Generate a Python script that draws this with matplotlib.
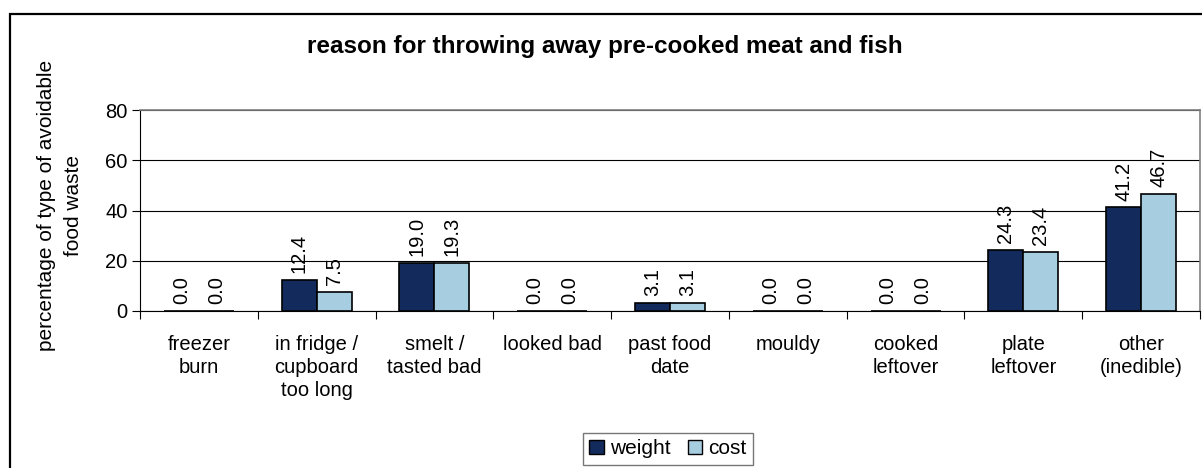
import matplotlib.pyplot as plt
import numpy as np
from matplotlib.patches import Patch, Rectangle

plt.rcParams['font.family'] = ['Liberation Sans', 'DejaVu Sans']

# reasons for throwing away pre-cooked meat and fish
categories = ["freezer\nburn", "in fridge /\ncupboard\ntoo long", "smelt /\ntasted bad",
              "looked bad", "past food\ndate", "mouldy", "cooked\nleftover",
              "plate\nleftover", "other\n(inedible)"]
weight = [0.0, 12.4, 19.0, 0.0, 3.1, 0.0, 0.0, 24.3, 41.2]
cost = [0.0, 7.5, 19.3, 0.0, 3.1, 0.0, 0.0, 23.4, 46.7]
yticks = [0, 20, 40, 60, 80]

navy = "#122a5c"
light = "#a6cde0"

W, H = 1202, 468
fig = plt.figure(figsize=(W / 100, H / 100), dpi=100)
ax = fig.add_axes([140 / W, 1 - 311 / H, 1060 / W, 201 / H])

# outer chart frame
fig.patches.append(Rectangle((10 / W, -0.2), 1.5, 1.2 - 14 / H,
                             transform=fig.transFigure, fill=False,
                             edgecolor="black", linewidth=1.6))

x = np.arange(len(categories))
w = 0.297
b1 = ax.bar(x - w / 2, weight, w, color=navy, edgecolor="black", linewidth=1.2,
            label="weight", zorder=3)
b2 = ax.bar(x + w / 2, cost, w, color=light, edgecolor="black", linewidth=1.2,
            label="cost", zorder=3)

for bars, vals in ((b1, weight), (b2, cost)):
    for bar, v in zip(bars, vals):
        ax.annotate(f"{v:.1f}", (bar.get_x() + bar.get_width() / 2, v),
                    xytext=(0, 5), textcoords="offset points",
                    rotation=90, ha="center", va="bottom", fontsize=14.5)

ax.set_xlim(-0.5, len(categories) - 0.5)
ax.set_ylim(0, 80)
ax.set_yticks(yticks)
ax.tick_params(axis="y", labelsize=14.5, direction="out", length=6, width=0.8, pad=3)
ax.yaxis.grid(True, color="black", linewidth=0.8, zorder=0)
ax.set_axisbelow(True)

# category ticks sit between groups
ax.set_xticks(np.arange(len(categories) + 1) - 0.5)
ax.set_xticklabels([])
ax.set_xticks(x, minor=True)
ax.set_xticklabels(categories, minor=True, fontsize=14.5, linespacing=1.28, va="top")
ax.tick_params(axis="x", which="major", direction="out", length=6, width=0.8)
ax.tick_params(axis="x", which="minor", length=0, pad=17)

for side in ("top", "right"):
    ax.spines[side].set_color("#808080")
    ax.spines[side].set_linewidth(1.2)
ax.spines["left"].set_linewidth(0.8)
ax.spines["bottom"].set_linewidth(0.8)

fig.text(60 / W, 1 - 205 / H, "percentage of type of avoidable\nfood waste",
         rotation=90, ha="center", va="center", multialignment="center",
         fontsize=15, linespacing=1.55)

fig.text(605 / W, 1 - 47 / H, "reason for throwing away pre-cooked meat and fish",
         ha="center", va="center", fontsize=17.5, fontweight="bold")

handles = [Patch(facecolor=navy, edgecolor="black", label="weight"),
           Patch(facecolor=light, edgecolor="black", label="cost")]
fig.legend(handles=handles, loc="upper center", bbox_to_anchor=(668 / W, 1 - 433 / H),
           ncol=2, fontsize=15, frameon=True, fancybox=False, edgecolor="#555555",
           handlelength=0.7, handleheight=0.7, handletextpad=0.3, columnspacing=0.8,
           borderpad=0.3, borderaxespad=0)

fig.savefig("out.png", dpi=100)
